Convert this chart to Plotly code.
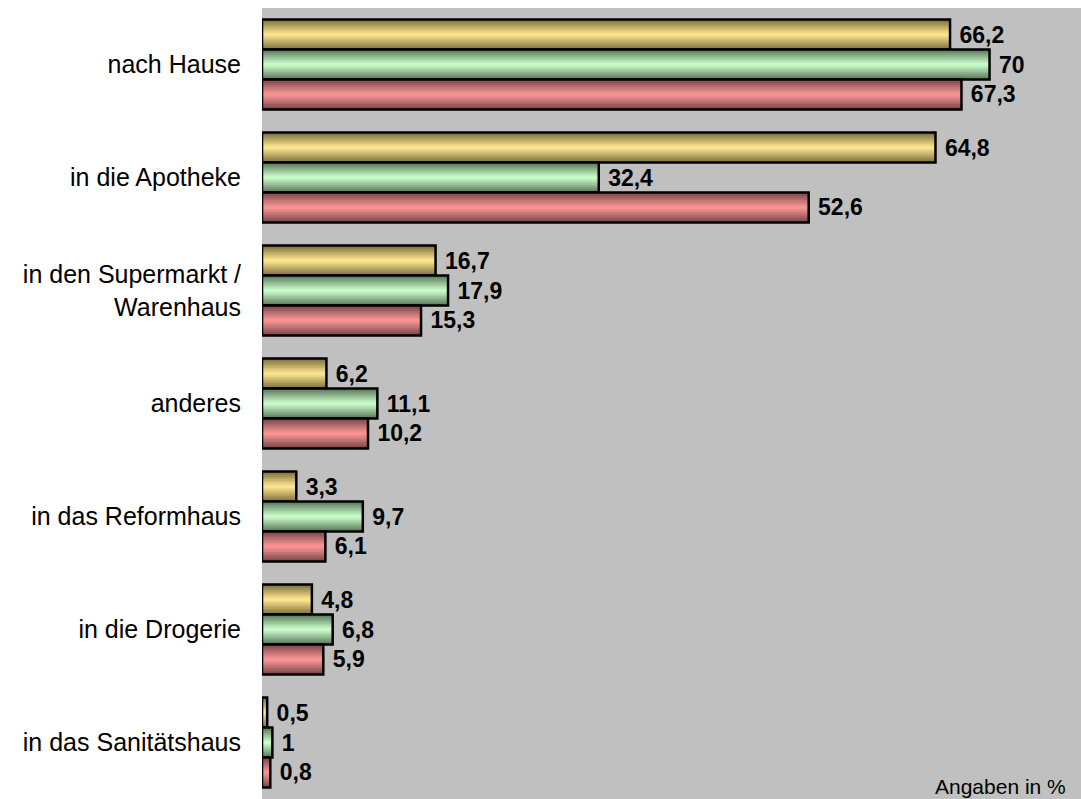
import plotly.graph_objects as go

categories = [
    "nach Hause",
    "in die Apotheke",
    "in den Supermarkt /<br>Warenhaus",
    "anderes",
    "in das Reformhaus",
    "in die Drogerie",
    "in das Sanitätshaus",
]
vals_yellow = [66.2, 64.8, 16.7, 6.2, 3.3, 4.8, 0.5]
vals_green = [70, 32.4, 17.9, 11.1, 9.7, 6.8, 1]
vals_red = [67.3, 52.6, 15.3, 10.2, 6.1, 5.9, 0.8]


def fmt(v):
    s = f"{v:g}"
    return "\u00a0" + s.replace(".", ",")


def mix(c1, c2, t):
    return "rgb({},{},{})".format(*[round(a + (b - a) * t) for a, b in zip(c1, c2)])


# (values, edge colour, centre colour)
series = [
    (vals_yellow, (130, 115, 65), (250, 226, 140)),
    (vals_green, (95, 125, 95), (200, 250, 200)),
    (vals_red, (125, 75, 75), (248, 146, 146)),
]

bar_w = 0.265
n_layers = 8

fig = go.Figure()
for i, (vals, dark, light) in enumerate(series):
    centre = (i - 1) * bar_w
    # shaded bands: darker at the edges, light in the middle
    for k in range(n_layers):
        wk = bar_w * (1 - k / n_layers)
        fig.add_trace(
            go.Bar(
                y=categories,
                x=vals,
                orientation="h",
                width=wk,
                offset=centre - wk / 2,
                marker=dict(color=mix(dark, light, k / (n_layers - 1)), line=dict(width=0)),
                showlegend=False,
                hoverinfo="skip",
            )
        )
    # black outline + value label
    fig.add_trace(
        go.Bar(
            y=categories,
            x=vals,
            orientation="h",
            width=bar_w,
            offset=centre - bar_w / 2,
            marker=dict(color="rgba(0,0,0,0)", line=dict(color="black", width=2.5)),
            text=[fmt(v) for v in vals],
            textposition="outside",
            textfont=dict(family="Liberation Sans, Arial", size=23, color="black", weight="bold"),
            cliponaxis=False,
            showlegend=False,
        )
    )

fig.add_annotation(
    text="Angaben in %",
    x=0.984,
    y=0.016,
    xref="paper",
    yref="paper",
    xanchor="right",
    yanchor="middle",
    showarrow=False,
    font=dict(family="Liberation Sans, Arial", size=21, color="black"),
)

fig.update_layout(
    width=1081,
    height=799,
    barmode="overlay",
    plot_bgcolor="#c0c0c0",
    paper_bgcolor="white",
    margin=dict(l=262, r=0, t=8, b=0),
    font=dict(family="Liberation Sans, Arial", color="black"),
    xaxis=dict(
        range=[0, 78.8],
        showticklabels=False,
        showgrid=False,
        zeroline=False,
        fixedrange=True,
    ),
    yaxis=dict(
        autorange="reversed",
        showgrid=False,
        zeroline=False,
        ticks="",
        ticklabelstandoff=20,
        tickfont=dict(size=25, color="black"),
    ),
)

fig.write_html(
    "out.html",
    config={"displayModeBar": False},
    post_script="document.body.style.margin='0';document.body.style.overflow='hidden';",
)
